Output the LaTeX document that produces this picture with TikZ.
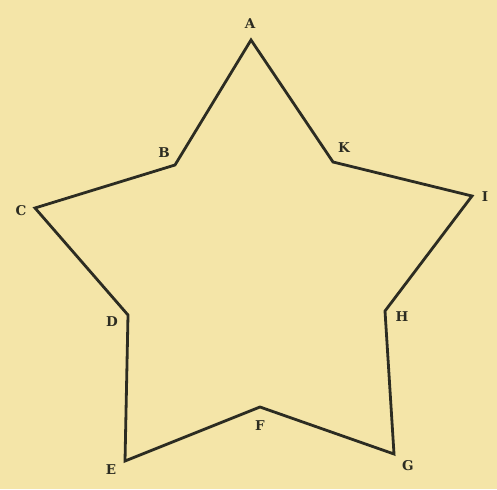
\documentclass[tikz,border=0pt]{standalone}
\usepackage{fontspec}
\newfontfamily\lblfont{DejaVu Serif}
\definecolor{paper}{HTML}{F4E5A8}
\definecolor{ink}{HTML}{2C2C22}
\begin{document}
\begin{tikzpicture}[x=1pt,y=-1pt,
  edge/.style={draw=ink,line width=2.8pt},
  lbl/.style={text=ink,font=\lblfont\bfseries\fontsize{13.5}{14}\selectfont,inner sep=0pt}]
\fill[paper] (0,0) rectangle (497,489);
\useasboundingbox (0,0) rectangle (497,489);
\coordinate (A) at (251,40);
\coordinate (K) at (333,162);
\coordinate (I) at (472,196);
\coordinate (H) at (385,311);
\coordinate (G) at (394,454);
\coordinate (F) at (260,407);
\coordinate (E) at (125,461);
\coordinate (D) at (128,315);
\coordinate (C) at (35,208);
\coordinate (B) at (175,165);
\draw[edge] (A) -- (K) -- (I) -- (H) -- (G) -- (F) -- (E) -- (D) -- (C) -- (B) -- cycle;
\node[lbl] (lA) at (250,24) {A};
\node[lbl] (lB) at (164,153) {B};
\node[lbl] (lK) at (344,148) {K};
\node[lbl] (lI) at (485,197) {I};
\node[lbl] (lC) at (21,211) {C};
\node[lbl] (lD) at (112,322) {D};
\node[lbl] (lH) at (402,317) {H};
\node[lbl] (lF) at (260,426) {F};
\node[lbl] (lE) at (111,470) {E};
\node[lbl] (lG) at (408,466) {G};
\end{tikzpicture}
\end{document}
